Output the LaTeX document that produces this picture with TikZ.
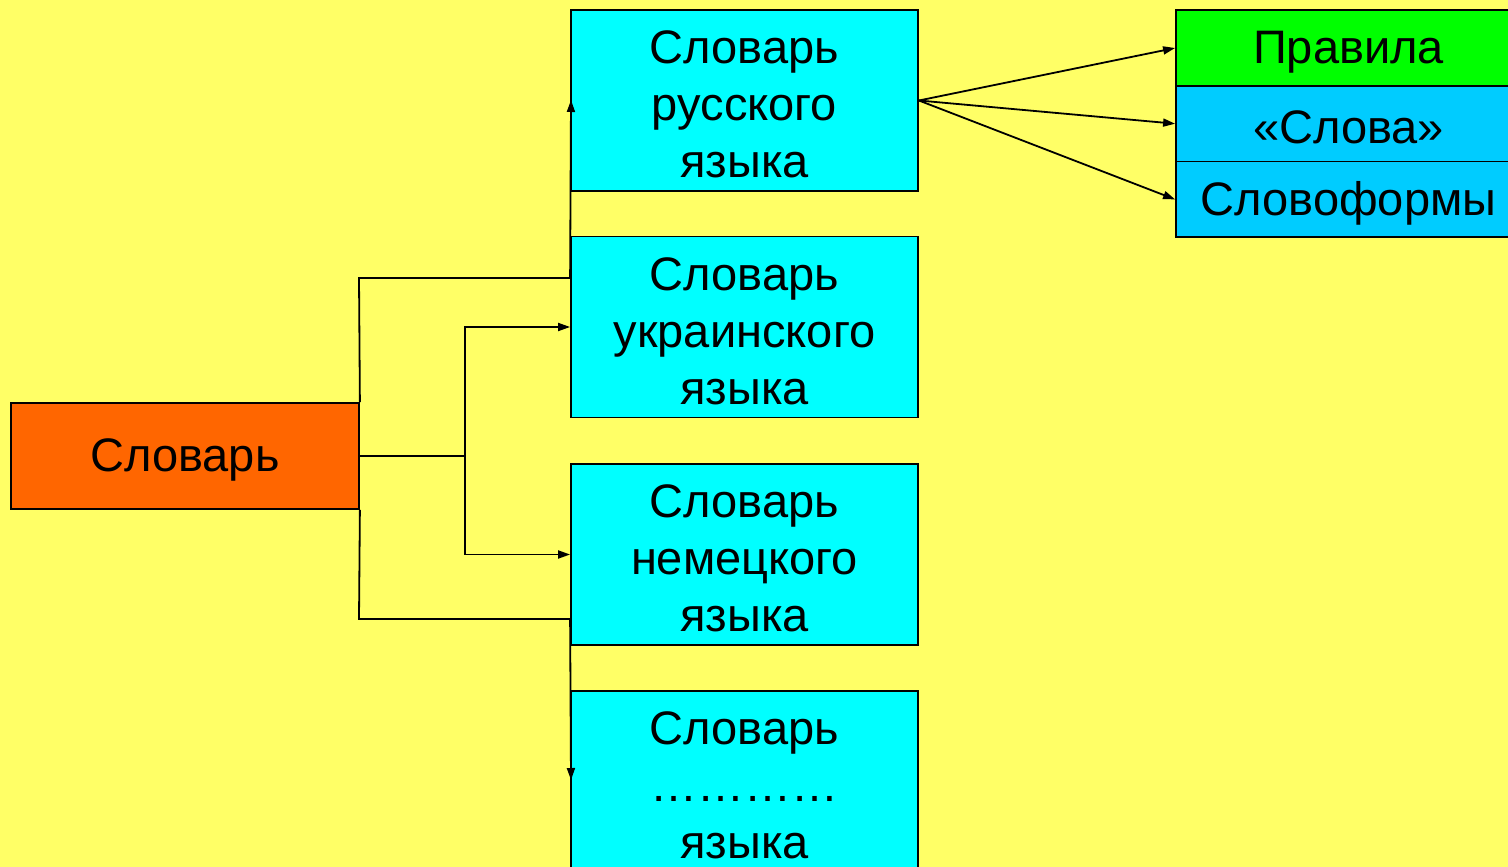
\documentclass[tikz,border=0pt]{standalone}
\usepackage{fontspec}
\setmainfont{Liberation Sans}
\usetikzlibrary{arrows.meta}
\definecolor{bgyellow}{HTML}{FFFF66}
\definecolor{boxcyan}{HTML}{00FFFF}
\definecolor{boxorange}{HTML}{FF6600}
\definecolor{boxgreen}{HTML}{00FF00}
\definecolor{boxblue}{HTML}{00CCFF}
\begin{document}
\begin{tikzpicture}[x=1pt,y=-1pt,
  every node/.style={font=\fontsize{47}{57}\selectfont, inner sep=0pt, align=center},
  langbox/.style={draw=black, line width=1.8pt, fill=boxcyan, minimum width=347pt, minimum height=181pt},
  rootbox/.style={draw=black, line width=1.8pt, fill=boxorange, minimum width=348pt, minimum height=106pt},
  partbox/.style={draw=black, line width=1.8pt, minimum width=345pt, minimum height=75.7pt},
  txt/.style={yshift=-4pt},
  conn/.style={draw=black, line width=1.8pt},
  arr/.style={conn, -{Triangle[length=12pt,width=8pt]}}]
\useasboundingbox (0,0) rectangle (1508,867);
\fill[bgyellow] (0,0) rectangle (1508,867);
% boxes
\node[rootbox] (root) at (185,456) {};
\node[langbox] (rus) at (744.5,100.5) {};
\node[langbox] (ukr) at (744.5,327) {};
\node[langbox] (ger) at (744.5,554.5) {};
\node[langbox] (oth) at (744.5,781.5) {};
\node[partbox, fill=boxgreen] (rules) at (1348.5,48) {};
\node[partbox, fill=boxblue] (words) at (1348.5,123.7) {};
\node[partbox, fill=boxblue] (forms) at (1348.5,199.4) {};
% texts
\node[txt] (troot) at (root.center) {Словарь};
\node[txt] (trus) at (rus.center) {Словарь\\русского\\языка};
\node[txt] (tukr) at (ukr.center) {Словарь\\украинского\\языка};
\node[txt] (tger) at (ger.center) {Словарь\\немецкого\\языка};
\node[txt] (toth) at (oth.center) {Словарь\\…………\\языка};
\node[txt] (trules) at (rules.center) {Правила};
\node[txt] (twords) at (words.center) {«Слова»};
\node[txt] (tforms) at (forms.center) {Словоформы};
% connector coordinates
\coordinate (mid) at (465,456);
\coordinate (upc) at (359,278);
\coordinate (dnc) at (359,619);
\coordinate (rusin) at (571,100);
\coordinate (othin) at (571,780);
% connectors from root
\draw[conn] (root.east) -- (mid);
\draw[arr] (mid) |- (ukr.west);
\draw[arr] (mid) |- (ger.west);
\draw[arr] (root.north east) -- (upc) -- (upc -| ukr.west) -- (rusin);
\draw[arr] (root.south east) -- (dnc) -- (dnc -| ger.west) -- (othin);
% connectors to parts
\draw[arr] (rus.east) -- (rules.west);
\draw[arr] (rus.east) -- (words.west);
\draw[arr] (rus.east) -- (forms.west);
\end{tikzpicture}
\end{document}
